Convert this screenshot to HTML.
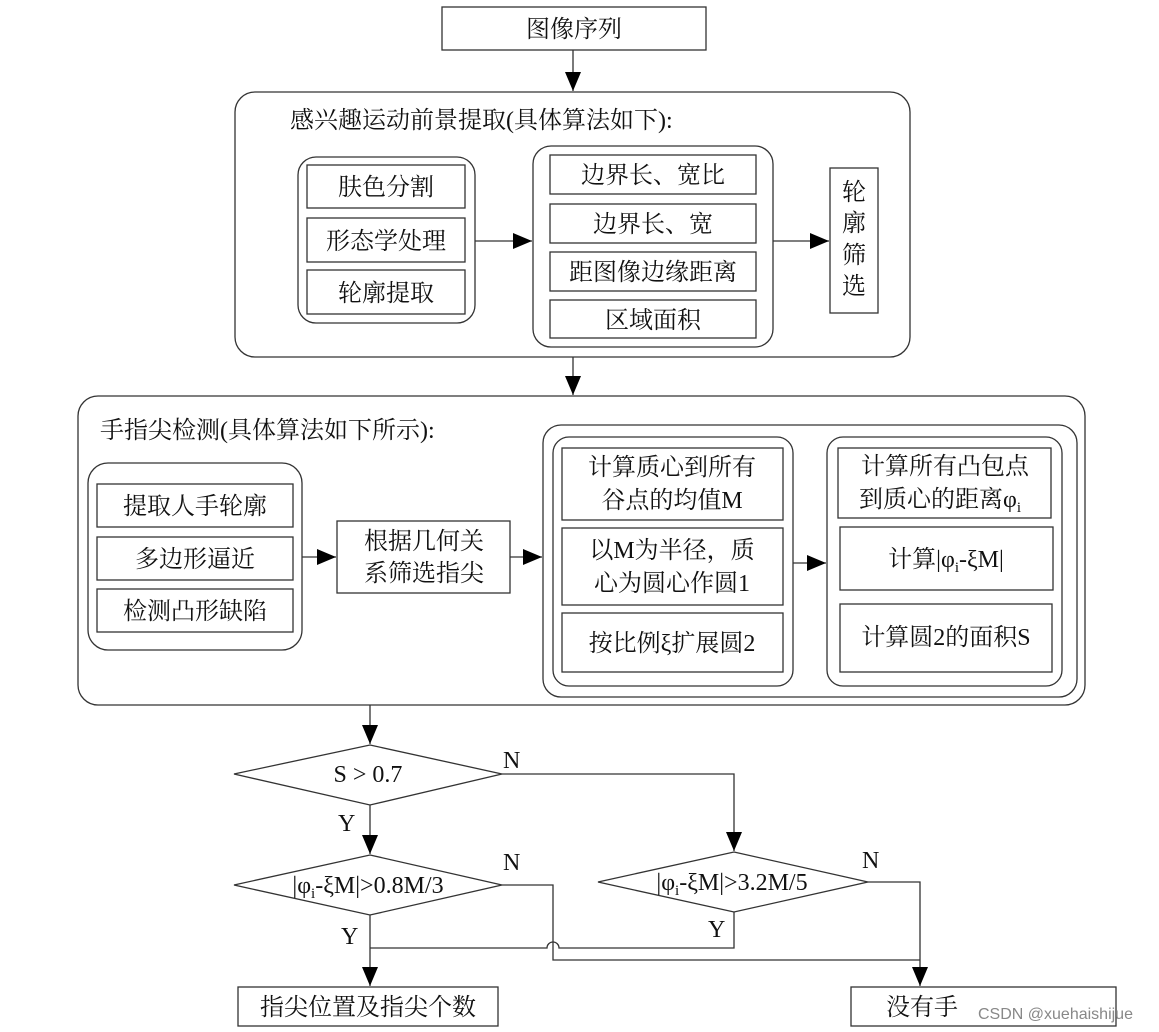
<!DOCTYPE html>
<html><head><meta charset="utf-8"><style>
html,body{margin:0;padding:0;background:#fff;}
svg{display:block;}
text{font-family:"Liberation Serif","Noto Serif CJK SC",serif;font-size:24px;fill:#111;}
.s{font-family:"Liberation Sans","Noto Sans CJK SC",sans-serif;font-size:16px;fill:#888;}
</style></head><body>
<svg width="1159" height="1032" viewBox="0 0 1159 1032" xmlns="http://www.w3.org/2000/svg">
<defs><marker id="a" markerWidth="20" markerHeight="16" refX="19" refY="8" orient="auto" markerUnits="userSpaceOnUse"><path d="M0,0 L19,8 L0,16 z" fill="#000"/></marker></defs>
<g fill="none" stroke="#333" stroke-width="1.3">
<rect x="442" y="7" width="264" height="43"/>
<line x1="573" y1="50" x2="573" y2="91" marker-end="url(#a)"/>
<rect x="235" y="92" width="675" height="265" rx="20"/>
<rect x="298" y="157" width="177" height="166" rx="18"/>
<rect x="307" y="165" width="158" height="43"/>
<rect x="307" y="218" width="158" height="44"/>
<rect x="307" y="270" width="158" height="44"/>
<line x1="475" y1="241" x2="532" y2="241" marker-end="url(#a)"/>
<rect x="533" y="146" width="240" height="201" rx="18"/>
<rect x="550" y="155" width="206" height="39"/>
<rect x="550" y="204" width="206" height="39"/>
<rect x="550" y="252" width="206" height="39"/>
<rect x="550" y="300" width="206" height="38"/>
<line x1="773" y1="241" x2="829" y2="241" marker-end="url(#a)"/>
<rect x="830" y="168" width="48" height="145"/>
<line x1="573" y1="357" x2="573" y2="395" marker-end="url(#a)"/>
<rect x="78" y="396" width="1007" height="309" rx="20"/>
<rect x="88" y="463" width="214" height="187" rx="20"/>
<rect x="97" y="484" width="196" height="43"/>
<rect x="97" y="537" width="196" height="43"/>
<rect x="97" y="589" width="196" height="43"/>
<line x1="302" y1="557" x2="336" y2="557" marker-end="url(#a)"/>
<rect x="337" y="521" width="173" height="72"/>
<line x1="510" y1="557" x2="542" y2="557" marker-end="url(#a)"/>
<rect x="543" y="425" width="534" height="272" rx="18"/>
<rect x="553" y="437" width="240" height="249" rx="16"/>
<rect x="562" y="448" width="221" height="72"/>
<rect x="562" y="528" width="221" height="77"/>
<rect x="562" y="613" width="221" height="59"/>
<line x1="793" y1="563" x2="826" y2="563" marker-end="url(#a)"/>
<rect x="827" y="437" width="235" height="249" rx="16"/>
<rect x="838" y="448" width="213" height="70"/>
<rect x="840" y="527" width="213" height="63"/>
<rect x="840" y="604" width="212" height="68"/>
<line x1="370" y1="705" x2="370" y2="744" marker-end="url(#a)"/>
<polygon points="370,745 502,774 370,805 234,774"/>
<polyline points="502,774 734,774 734,851" marker-end="url(#a)"/>
<line x1="370" y1="805" x2="370" y2="854" marker-end="url(#a)"/>
<polygon points="370,855 502,885 370,915 234,885"/>
<polygon points="734,852 868,882 734,912 598,882"/>
<polyline points="502,885 553,885 553,960 920,960"/>
<polyline points="868,882 920,882 920,986" marker-end="url(#a)"/>
<path d="M734,912 L734,948 L559,948 A6,6 0 0 0 547,948 L370,948"/>
<line x1="370" y1="915" x2="370" y2="986" marker-end="url(#a)"/>
<rect x="238" y="987" width="260" height="39"/>
<rect x="851" y="987" width="265" height="39"/>
</g>
<g text-anchor="middle">
<text x="574" y="37">图像序列</text>
<text x="386" y="195">肤色分割</text>
<text x="386" y="249">形态学处理</text>
<text x="386" y="301">轮廓提取</text>
<text x="653" y="183">边界长、宽比</text>
<text x="653" y="232">边界长、宽</text>
<text x="653" y="280">距图像边缘距离</text>
<text x="653" y="328">区域面积</text>
<text x="854" y="200">轮</text>
<text x="854" y="231">廓</text>
<text x="854" y="263">筛</text>
<text x="854" y="294">选</text>
<text x="195" y="514">提取人手轮廓</text>
<text x="195" y="567">多边形逼近</text>
<text x="195" y="619">检测凸形缺陷</text>
<text x="424" y="549">根据几何关</text>
<text x="424" y="581">系筛选指尖</text>
<text x="672" y="475">计算质心到所有</text>
<text x="672" y="508">谷点的均值M</text>
<text x="672" y="558">以M为半径，质</text>
<text x="672" y="591">心为圆心作圆1</text>
<text x="672" y="651">按比例ξ扩展圆2</text>
<text x="945" y="474">计算所有凸包点</text>
<text x="940" y="507">到质心的距离φ<tspan font-size="15" dy="5">i</tspan></text>
<text x="946" y="567">计算|φ<tspan font-size="15" dy="5">i</tspan><tspan dy="-5">-ξM|</tspan></text>
<text x="946" y="645">计算圆2的面积S</text>
<text x="368" y="782">S &gt; 0.7</text>
<text x="368" y="893">|φ<tspan font-size="15" dy="5">i</tspan><tspan dy="-5">-ξM|&gt;0.8M/3</tspan></text>
<text x="732" y="890">|φ<tspan font-size="15" dy="5">i</tspan><tspan dy="-5">-ξM|&gt;3.2M/5</tspan></text>
<text x="368" y="1015">指尖位置及指尖个数</text>
<text x="922" y="1015">没有手</text>
</g>
<text x="290" y="128">感兴趣运动前景提取(具体算法如下):</text>
<text x="100" y="438">手指尖检测(具体算法如下所示):</text>
<text x="503" y="768" font-size="21">N</text>
<text x="338" y="831" font-size="21">Y</text>
<text x="503" y="870" font-size="21">N</text>
<text x="341" y="944" font-size="21">Y</text>
<text x="708" y="937" font-size="21">Y</text>
<text x="862" y="868" font-size="21">N</text>
<text class="s" x="978" y="1019">CSDN @xuehaishijue</text>
</svg>
</body></html>
